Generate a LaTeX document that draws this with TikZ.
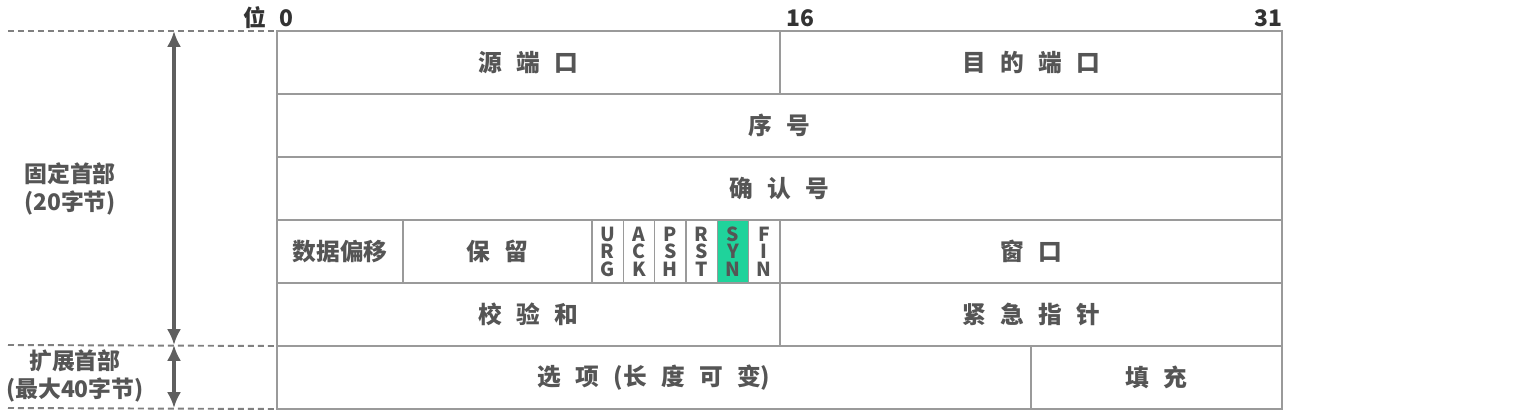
\documentclass[tikz,border=0pt]{standalone}
\usepackage{fontspec}
\setmainfont{Noto Sans CJK SC}
\usetikzlibrary{positioning,arrows.meta}

\definecolor{linegray}{HTML}{9A9A9A}
\definecolor{textgray}{HTML}{555555}
\definecolor{dashgray}{HTML}{808080}
\definecolor{arrowgray}{HTML}{5F5F5F}
\definecolor{synfill}{HTML}{1FD39B}

\newcommand\pxl{0.02cm}
\newcommand\gap{\hspace{0.6em}}

\tikzset{
    cell/.style={draw=linegray, line width=0.8pt, inner sep=0, outer sep=0,
        minimum height=63*\pxl, text=textgray,
        font=\bfseries\fontsize{13.5}{15}\selectfont},
    flag/.style={cell, minimum width=31.33*\pxl, align=center,
        font=\bfseries\fontsize{11}{10}\selectfont},
    bitlabel/.style={font=\bfseries\fontsize{13}{15}\selectfont, text=black!80, inner sep=0},
    sidelabel/.style={align=center, text=textgray,
        font=\bfseries\fontsize{13}{16}\selectfont, inner sep=0},
    guide/.style={dashgray, line width=1.1pt, dash pattern=on 0.12cm off 0.08cm},
    sizearrow/.style={arrowgray, line width=2.6pt,
        -{Latex[length=9pt,width=8pt]}}
}

\begin{document}
\begin{tikzpicture}[x=\pxl, y=-\pxl]
\useasboundingbox (0,0) rectangle (1528,417);

% bit numbers
\node[bitlabel] (wei) at (255,18) {位};
\node[bitlabel] (b0) at (286,18) {0};
\node[bitlabel] (b16) at (800,18) {16};
\node[bitlabel] (b31) at (1268,18) {31};

% row 1: ports
\node[cell, minimum width=503*\pxl, anchor=north west] (srcport) at (277,31) {源\gap 端\gap 口};
\node[cell, minimum width=502*\pxl, right=0pt of srcport] (dstport) {目\gap 的\gap 端\gap 口};

% row 2: sequence number
\node[cell, minimum width=1005*\pxl, below=0pt of srcport.south west, anchor=north west] (seqno) {序\gap 号};

% row 3: acknowledgement number
\node[cell, minimum width=1005*\pxl, below=0pt of seqno] (ackno) {确\gap 认\gap 号};

% row 4: offset, reserved, flags, window
\node[cell, minimum width=126*\pxl, below=0pt of ackno.south west, anchor=north west] (offset) {数据偏移};
\node[cell, minimum width=189*\pxl, right=0pt of offset] (reserved) {保\gap 留};
\node[flag, right=0pt of reserved] (urg) {U\\R\\G};
\node[flag, right=0pt of urg] (ack) {A\\C\\K};
\node[flag, right=0pt of ack] (psh) {P\\S\\H};
\node[flag, right=0pt of psh] (rst) {R\\S\\T};
\node[flag, fill=synfill, right=0pt of rst] (syn) {S\\Y\\N};
\node[flag, right=0pt of syn] (fin) {F\\I\\N};
\node[cell, minimum width=502*\pxl, below=0pt of ackno.south east, anchor=north east] (window) {窗\gap 口};

% row 5: checksum, urgent pointer
\node[cell, minimum width=503*\pxl, below=0pt of offset.south west, anchor=north west] (checksum) {校\gap 验\gap 和};
\node[cell, minimum width=502*\pxl, right=0pt of checksum] (urgptr) {紧\gap 急\gap 指\gap 针};

% row 6: options, padding
\node[cell, minimum width=754*\pxl, below=0pt of checksum.south west, anchor=north west] (options) {选\gap 项\gap (长\gap 度\gap 可\gap 变)};
\node[cell, minimum width=251*\pxl, right=0pt of options] (padding) {填\gap 充};

% guides on the left
\coordinate (topleft) at (8,31);
\coordinate (midleft) at (8,345);
\coordinate (botleft) at (8,408);
\draw[guide] (topleft) -- (srcport.north west);
\draw[guide] (midleft) -- (options.north west);
\draw[guide] (botleft) -- (options.south west);

% header size arrows, drawn from the middle out
\coordinate (fixtop) at (174,31);
\coordinate (fixmid) at (174,188);
\coordinate (fixbot) at (174,345);
\coordinate (extmid) at (174,376);
\coordinate (extbot) at (174,408);
\draw[sizearrow] (fixmid) -- (fixtop);
\draw[sizearrow] (fixmid) -- (fixbot);
\draw[sizearrow] (extmid) -- (fixbot);
\draw[sizearrow] (extmid) -- (extbot);

\node[sidelabel] (fixed) at (70,189) {固定首部\\(20字节)};
\node[sidelabel] (ext) at (75,376) {扩展首部\\(最大40字节)};

\end{tikzpicture}
\end{document}
